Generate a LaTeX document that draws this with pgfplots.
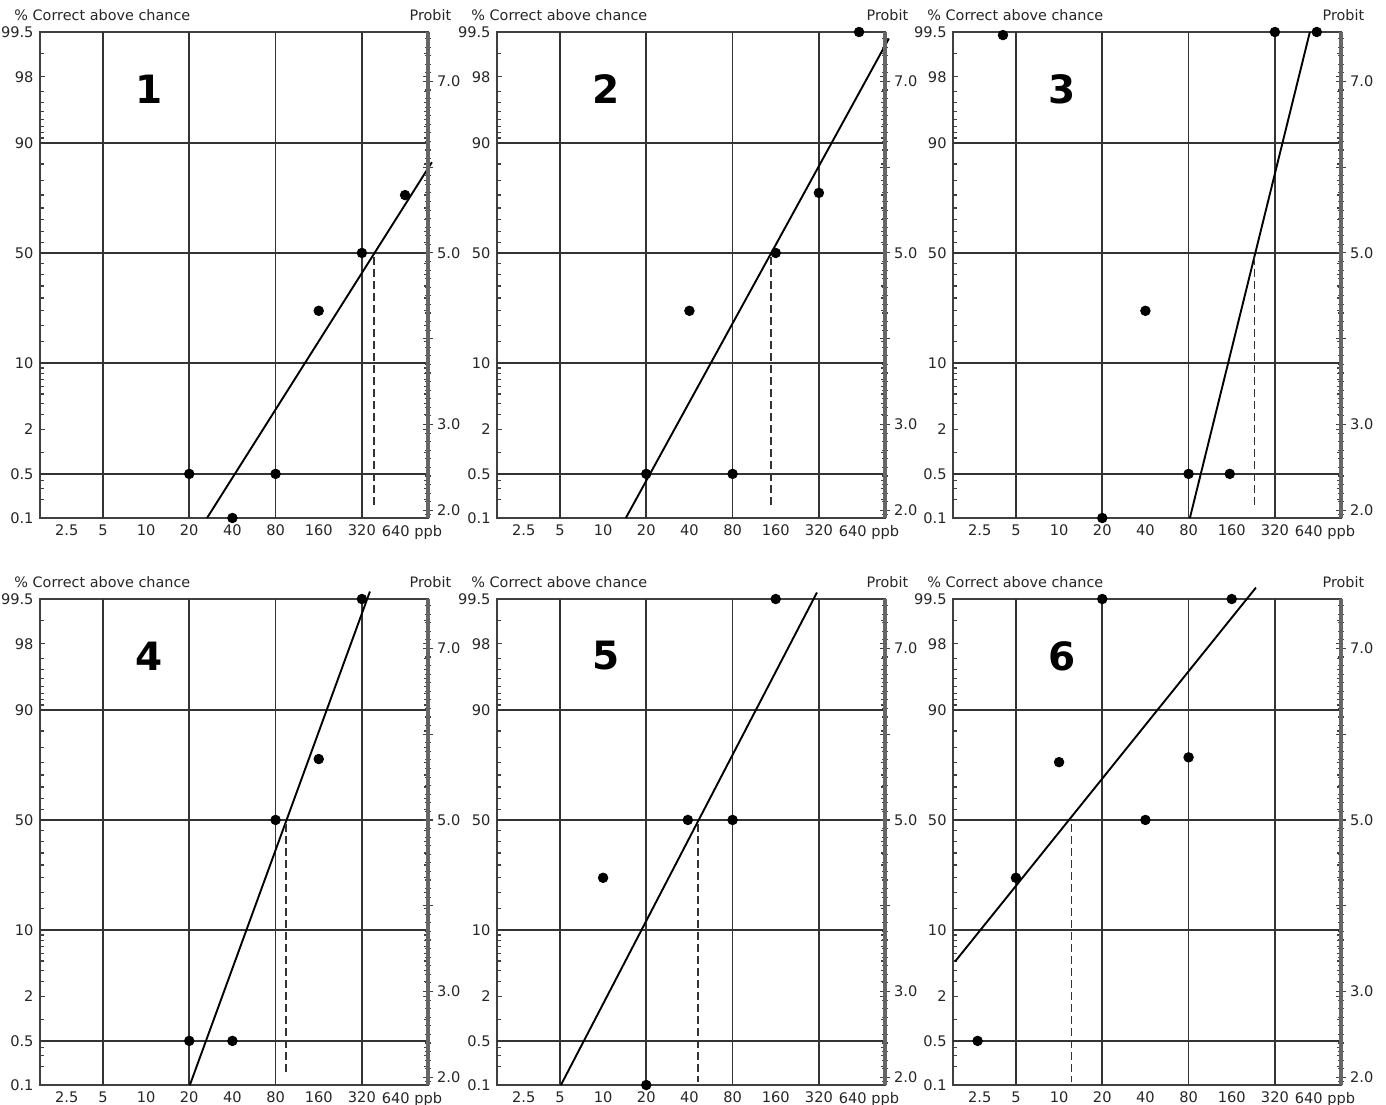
\documentclass[border=0pt]{standalone}
\usepackage{fontspec}
\setmainfont{DejaVu Sans}
\usepackage{pgfplots}
\pgfplotsset{compat=1.18}
\newcommand\panel[3]{%
\begin{axis}[scale only axis, width=194pt, height=243pt, anchor=north west, at={#1},
    xmode=log, log basis x=2, xmin=1.82, xmax=925, ymin=1.9098, ymax=7.5758, clip=false,
    tick label style={font=\fontsize{7.3}{8.5}\selectfont, text=black!85},
    axis line style={draw=black!75, line width=1pt},
    xtick={2.5,5,10,20,40,80,160,320,640},
    xticklabels={\hspace*{7pt}2.5,5,10,20,40,80,160,320,\hspace*{7pt}640 ppb},
    xtick style={draw=none},
    ytick={1.9098,2.4242,2.9463,3.7184,5,6.2816,7.0537,7.5758},
    yticklabels={0.1,0.5,2,10,50,90,98,99.5},
    minor ytick={7.3263,6.8808,6.7507,6.6449,6.5548,6.4758,6.4051,6.3408,6.0364,5.8416,5.6745,5.5244,5.3853,5.2533,5.1257,4.8743,4.7467,4.6147,4.4756,4.3255,4.1584,3.9636,3.6592,3.5949,3.5242,3.4452,3.3551,3.2493,3.1192,2.6737,2.3479,2.2522,2.1218},
    tick align=inside, major tick length=2.6pt, minor tick length=2.2pt,
    ytick style={black!75, line width=0.6pt},
    yticklabel style={xshift=0.3pt},
    extra x ticks={5,20,80,320}, extra x tick labels={},
    extra x tick style={grid=major, major tick length=0pt},
    extra y ticks={2.4242,3.7184,5,6.2816}, extra y tick labels={},
    extra y tick style={grid=major, major tick length=0pt},
    grid style={black!80, line width=0.85pt}]
#3
  \node[anchor=west, inner sep=0pt, font=\fontsize{7.2}{8.5}\selectfont, text=black!85, xshift=-13pt, yshift=8.5pt] at (rel axis cs:0,1) {\% Correct above chance};
  \node[anchor=east, inner sep=0pt, font=\fontsize{7.2}{8.5}\selectfont, text=black!85, xshift=11.8pt, yshift=8.5pt] at (rel axis cs:1,1) {Probit};
  \node[font=\fontsize{19.5}{19.5}\selectfont\bfseries] at (rel axis cs:0.281,0.883) {#2};
\end{axis}
\begin{axis}[scale only axis, width=194pt, height=243pt, anchor=north west, at={#1},
    xmin=0, xmax=1, ymin=1.9098, ymax=7.5758,
    axis y line*=right, axis x line=none,
    tick label style={font=\fontsize{7.3}{8.5}\selectfont, text=black!85},
    ytick={2,3,4,5,6,7}, yticklabels={2.0,3.0,,5.0,,7.0},
    minor ytick={1.95,2.1,2.2,2.3,2.4,2.5,2.6,2.7,2.8,2.9,3.1,3.2,3.3,3.4,3.5,3.6,3.7,3.8,3.9,4.1,4.2,4.3,4.4,4.5,4.6,4.7,4.8,4.9,5.1,5.2,5.3,5.4,5.5,5.6,5.7,5.8,5.9,6.1,6.2,6.3,6.4,6.5,6.6,6.7,6.8,6.9,7.1,7.2,7.3,7.4,7.5},
    tick align=center, major tick length=5pt, minor tick length=3.2pt,
    y axis line style={draw=black!60, line width=1.6pt},
    ytick style={black!75, line width=0.55pt},
    yticklabel style={xshift=-1.5pt}]
\end{axis}}
\tikzset{pnlfit/.style={black, line width=0.95pt},
  pnldots/.style={mark=*, mark size=2.4pt, black},
  pnled/.style={black!80, line width=0.8pt, dash pattern=on 3.8pt off 2.2pt}}
\begin{document}
\begin{tikzpicture}
\useasboundingbox (0,0) rectangle (693pt,-552pt);
% ---------- Panel 1 ----------
\panel{(20pt,-16pt)}{1}{%
  \addplot[pnlfit] coordinates {(26.6,1.9098) (985,6.058)};
  \addplot[pnled] coordinates {(390,4.95) (390,2.02)};
  \addplot[pnldots, only marks] coordinates {(20,2.4242) (40,1.9098) (80,2.4242) (160,4.3255) (320,5) (640,5.6745)};
}
% ---------- Panel 2 ----------
\panel{(248.5pt,-16pt)}{2}{%
  \addplot[pnlfit] coordinates {(14.4,1.9098) (985,7.50)};
  \addplot[pnled] coordinates {(148,4.95) (148,2.02)};
  \addplot[pnldots, only marks] coordinates {(20,2.4242) (40,4.3255) (80,2.4242) (160,5) (320,5.70) (610,7.5758)};
}
% ---------- Panel 3 ----------
\panel{(476.5pt,-16pt)}{3}{%
  \addplot[pnlfit] coordinates {(81.7,1.9098) (561,7.5758)};
  \addplot[pnled] coordinates {(230,4.95) (230,2.02)};
  \addplot[pnldots, only marks] coordinates {(4.06,7.54) (20,1.9098) (40,4.3255) (80,2.4242) (155,2.4242) (320,7.5758) (627,7.5758)};
}
% ---------- Panel 4 ----------
\panel{(20pt,-299.5pt)}{4}{%
  \addplot[pnlfit] coordinates {(20.2,1.9098) (364,7.663)};
  \addplot[pnled] coordinates {(95,4.95) (95,2.02)};
  \addplot[pnldots, only marks] coordinates {(20,2.4242) (40,2.4242) (80,5) (160,5.71) (320,7.5758)};
}
% ---------- Panel 5 ----------
\panel{(248.5pt,-299.5pt)}{5}{%
  \addplot[pnlfit] coordinates {(5.08,1.9098) (310,7.651)};
  \addplot[pnled] coordinates {(46,4.95) (46,1.95)};
  \addplot[pnldots, only marks] coordinates {(10,4.3255) (20,1.9098) (39,5) (80,5) (160,7.5758)};
}
% ---------- Panel 6 ----------
\panel{(476.5pt,-299.5pt)}{6}{%
  \addplot[pnlfit] coordinates {(1.88,3.349) (236,7.709)};
  \addplot[pnled] coordinates {(12.2,4.95) (12.2,1.95)};
  \addplot[pnldots, only marks] coordinates {(2.7,2.4242) (5,4.3255) (10,5.674) (20,7.5758) (40,5) (80,5.73) (160,7.5758)};
}
\end{tikzpicture}
\end{document}
